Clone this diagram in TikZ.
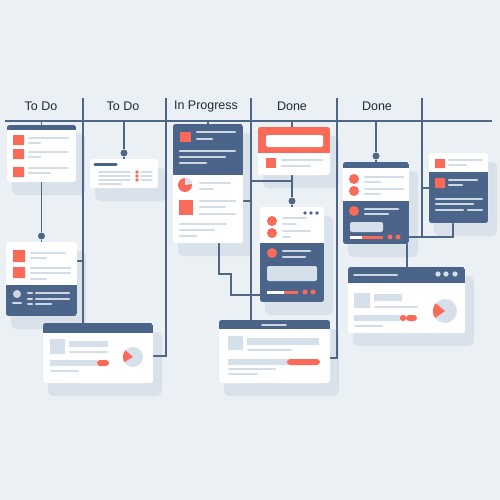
\documentclass[tikz,border=0pt]{standalone}
\usepackage{fontspec}
\setmainfont{Liberation Sans}
\usetikzlibrary{calc}
\definecolor{bg}{HTML}{EBF0F4}
\definecolor{navy}{HTML}{4A6589}
\definecolor{coral}{HTML}{FA6A58}
\definecolor{lineL}{HTML}{D3DDE7}
\definecolor{lineD}{HTML}{CCD8E4}
\definecolor{boxL}{HTML}{D6E0EA}
\definecolor{shad}{HTML}{D9E2EA}
\definecolor{conn}{HTML}{4F6785}
\definecolor{txt}{HTML}{1F2B3A}
\pgfdeclarelayer{shadowl}
\pgfdeclarelayer{wirel}
\pgfsetlayers{shadowl,wirel,main}
\tikzset{
  wire/.style={draw=conn, line width=1.3pt},
  ln/.style={draw=lineL, line width=2.1pt, line cap=round},
  lnd/.style={draw=lineD, line width=2.1pt, line cap=round},
  cardnode/.style={fill=white, rounded corners=2.5pt, inner sep=0pt, outer sep=0pt},
  jdot/.style={circle, fill=conn, inner sep=0pt, minimum size=7pt},
  collabel/.style={font=\fontsize{12.5}{13}\selectfont, text=txt, inner sep=0pt},
}
\newcommand\mkcard[5]{%
  \begin{pgfonlayer}{shadowl}
    \fill[shad, rounded corners=6pt] ({#2+5},{#3+9}) rectangle ({#4+9},{#5+13});
  \end{pgfonlayer}
  \node[cardnode, minimum width={(#4-#2)*1pt}, minimum height={(#5-#3)*1pt}] (#1) at ({(#2+#4)/2},{(#3+#5)/2}) {};
}
\newcommand\cardpart[7]{%
  \begin{scope}
    \clip[rounded corners=2.5pt] (#1,#2) rectangle (#3,#4);
    \fill[#7] (#1,#5) rectangle (#3,#6);
  \end{scope}
}
\newcommand\pieslice[6]{\fill[#6] (#1,#2) -- plot[domain=#4:#5, samples=24] ({#1+#3*cos(\x)},{#2+#3*sin(\x)}) -- cycle;}
\begin{document}
\begin{tikzpicture}[x=1pt,y=-1pt]
\begin{pgfonlayer}{shadowl}
  \fill[bg] (0,0) rectangle (500,500);
\end{pgfonlayer}
\useasboundingbox (0,0) rectangle (500,500);

% column labels
\node[collabel] (lab1) at (41,106) {To Do};
\node[collabel] (lab2) at (123,106) {To Do};
\node[collabel] (lab3) at (206,106) {In Progress};
\node[collabel] (lab4) at (292,106) {Done};
\node[collabel] (lab5) at (377,106) {Done};

% ---------- Card A ----------
\mkcard{cardA}{7}{125}{76}{182}
\cardpart{7}{125}{76}{182}{125}{130}{navy}
\fill[coral] (13,135) rectangle (24,145) (13,149) rectangle (24,159) (13,167) rectangle (24,177);
\draw[ln] (29,138)--(68,138) (29,143)--(40,143) (29,152)--(68,152) (29,157)--(40,157) (29,168)--(68,168) (29,173)--(50,173);

% ---------- Card B ----------
\mkcard{cardB}{6}{242}{77}{316}
\cardpart{6}{242}{77}{316}{285}{316}{navy}
\fill[coral] (13,250) rectangle (25,262) (13,267) rectangle (25,278);
\draw[ln] (31,253)--(65,253) (31,258)--(46,258) (31,268)--(70,268) (31,273)--(70,273) (31,279)--(46,279);
\fill[lineD] (17,294) circle[radius=4];
\draw[lnd] (13,303)--(21,303) (28,293)--(32,293) (28,299)--(32,299) (28,304)--(32,304)
  (36,293)--(69,293) (36,299)--(69,299) (36,304)--(51,304);

% ---------- Card C ----------
\mkcard{cardC}{90}{159}{158}{188}
\draw[navy, line width=3.5pt, line cap=round] (95,164.5)--(116,164.5);
\draw[ln, line width=1.8pt] (99,172)--(130,172) (99,176)--(130,176) (99,180)--(130,180) (99,184)--(121,184)
  (141,172)--(152,172) (141,176)--(152,176) (141,180)--(152,180);
\fill[coral] (137,172) circle[radius=1.9] (137,176) circle[radius=1.9] (137,180) circle[radius=1.9];

% ---------- Card D ----------
\mkcard{cardD}{43}{323}{153}{383}
\cardpart{43}{323}{153}{383}{323}{333}{navy}
\fill[boxL] (50,339) rectangle (65,354) (69,341) rectangle (108,347) (50,360) rectangle (97,366);
\fill[coral, rounded corners=3pt] (97,360) rectangle (109,366);
\draw[ln, line width=2pt] (70,352)--(107,352) (51,371)--(78,371);
\fill[boxL] (133,357) circle[radius=10];
\pieslice{133}{357}{10}{150}{222}{coral}

% ---------- Card E ----------
\mkcard{cardE}{173}{124}{243}{243}
\cardpart{173}{124}{243}{243}{124}{175}{navy}
\fill[coral] (180,132) rectangle (191,142);
\draw[lnd] (197,132)--(235,132) (197,139)--(212,139) (180,151)--(235,151) (180,157)--(225,157) (180,163)--(206,163);
\fill[coral] (185,185) circle[radius=7];
\pieslice{185}{185}{7}{272}{352}{boxL}
\draw[ln] (200,183)--(230,183) (200,189)--(213,189) (200,201)--(235,201) (200,207)--(225,207) (200,214)--(235,214)
  (180,224)--(226,224) (180,230)--(214,230) (180,236)--(196,236);
\fill[coral] (179,200) rectangle (193,215);

% ---------- Card F ----------
\mkcard{cardF}{258}{127}{330}{175}
\cardpart{258}{127}{330}{175}{127}{153}{coral}
\fill[white, rounded corners=1.5pt] (266,135) rectangle (323,147);
\fill[coral] (266,158) rectangle (276,168);
\draw[ln] (282,160)--(322,160) (282,166)--(310,166);

% ---------- Card G ----------
\mkcard{cardG}{260}{207}{324}{302}
\cardpart{260}{207}{324}{302}{243}{302}{navy}
\fill[navy] (305,213) circle[radius=1.8] (311,213) circle[radius=1.8] (317,213) circle[radius=1.8];
\fill[coral] (272,221) circle[radius=5] (272,233) circle[radius=5] (272,253) circle[radius=5];
\draw[ln] (283,218)--(306,218) (283,224)--(296,224) (283,231)--(310,231) (283,237)--(290,237);
\draw[lnd] (283,251)--(310,251) (283,257)--(305,257);
\fill[boxL, rounded corners=2pt] (267,266) rectangle (317,281);
\draw[white, line width=3pt] (267,292)--(284,292);
\draw[coral, line width=3pt] (284,292)--(298,292);
\fill[coral] (305,292) circle[radius=2.5] (313,292) circle[radius=2.5];

% ---------- Card H ----------
\mkcard{cardH}{219}{320}{330}{383}
\cardpart{219}{320}{330}{383}{320}{329}{navy}
\draw[lnd, line width=1.8pt] (262,325)--(286,325);
\fill[boxL] (228,336) rectangle (243,350) (247,338) rectangle (319,345) (228,359) rectangle (288,365);
\fill[coral, rounded corners=3pt] (287,359) rectangle (320,365);
\draw[ln, line width=2pt] (248,350)--(291,350) (229,369)--(275,369) (229,374)--(257,374);

% ---------- Card I ----------
\mkcard{cardI}{343}{162}{409}{244}
\cardpart{343}{162}{409}{244}{162}{168}{navy}
\cardpart{343}{162}{409}{244}{201}{244}{navy}
\fill[coral] (354,179) circle[radius=5] (354,191) circle[radius=5] (354,211) circle[radius=5];
\draw[ln] (365,177)--(403,177) (365,182)--(380,182) (365,189)--(403,189) (365,194)--(380,194);
\draw[lnd] (365,209)--(398,209) (365,214)--(388,214);
\fill[boxL, rounded corners=2pt] (350,222) rectangle (383,232);
\draw[white, line width=3pt] (350,237)--(362,237);
\draw[coral, line width=3pt] (362,237)--(383,237);
\fill[coral] (390,237) circle[radius=2.5] (398,237) circle[radius=2.5];

% ---------- Card J ----------
\mkcard{cardJ}{429}{153}{488}{223}
\cardpart{429}{153}{488}{223}{172}{223}{navy}
\fill[coral] (435,159) rectangle (445,168) (435,178) rectangle (445,188);
\draw[ln] (449,160)--(482,160) (449,165)--(466,165);
\draw[lnd] (449,180)--(477,180) (449,185)--(462,185) (436,199)--(482,199) (436,204)--(473,204)
  (436,210)--(463,210) (468,210)--(482,210);

% ---------- Card K ----------
\mkcard{cardK}{348}{267}{465}{333}
\cardpart{348}{267}{465}{333}{267}{283}{navy}
\draw[lnd, line width=2pt] (354,275)--(397,275);
\fill[boxL] (438,274) circle[radius=2.6] (446,274) circle[radius=2.6] (455,274) circle[radius=2.6];
\fill[boxL] (354,293) rectangle (370,308) (374,294) rectangle (402,301) (354,315) rectangle (400,321);
\draw[ln, line width=2pt] (375,307)--(417,307) (355,326)--(382,326);
\fill[coral] (403,318) circle[radius=3.2];
\fill[coral, rounded corners=3pt] (406,315) rectangle (417,321);
\fill[boxL] (445,311) circle[radius=12];
\pieslice{445}{311}{12}{145}{220}{coral}

% ---------- junction dots ----------
\node[jdot] (dA) at (41.5,236) {};
\node[jdot] (dC) at (124,153) {};
\node[jdot] (dG) at (292,201) {};
\node[jdot] (dI) at (376,156) {};

% ---------- wires ----------
\coordinate (hL) at (5,121);
\coordinate (hR) at (492,121);
\coordinate (d1t) at (83,98);
\coordinate (d2t) at (166,98);
\coordinate (d2b) at (166,356);
\coordinate (d3t) at (251,98);
\coordinate (d4t) at (337,98);
\coordinate (d4b) at (337,358);
\coordinate (d5t) at (422,98);
\coordinate (d5b) at (422,237);
\coordinate (jB) at (83,261);
\coordinate (jE) at (251,201);
\coordinate (jF) at (251,181);
\coordinate (jJ) at (422,188);
\coordinate (jJb) at (453,237);
\coordinate (x4) at (292,0);
\coordinate (xIK) at (407,0);
\coordinate (e1) at (219,274);
\coordinate (e2) at (231,295);
\begin{pgfonlayer}{wirel}
  \draw[wire] (hL) -- (hR);
  \draw[wire] (d1t) -- (d1t |- cardD.north);
  \draw[wire] (jB -| cardB.east) -- (jB);
  \draw[wire] (d2t) -- (d2b) -- (d2b -| cardD.east);
  \draw[wire] (d3t) -- (d3t |- cardH.north);
  \draw[wire] (jE -| cardE.east) -- (jE);
  \draw[wire] (jF) -- (jF -| x4);
  \draw[wire] (d4t) -- (d4b) -- (d4b -| cardH.east);
  \draw[wire] (d5t) -- (d5b);
  \draw[wire] (jJ) -- (jJ -| cardJ.west);
  \draw[wire] (jJb -| cardI.east) -- (jJb) -- (jJb |- cardJ.south);
  \draw[wire] (xIK |- cardI.south) -- (xIK |- cardK.north);
  \draw[wire] (dA |- hL) -- (dA |- cardA.north);
  \draw[wire] (dA |- cardA.south) -- (dA) -- (dA |- cardB.north);
  \draw[wire] (dC |- hL) -- (dC) -- (dC |- cardC.north);
  \draw[wire] (cardE.north |- hL) -- (cardE.north);
  \draw[wire] (x4 |- hL) -- (x4 |- cardF.north);
  \draw[wire] (x4 |- cardF.south) -- (dG) -- (x4 |- cardG.north);
  \draw[wire] (dI |- hL) -- (dI) -- (dI |- cardI.north);
  \draw[wire] (e1 |- cardE.south) -- (e1) -- (e1 -| e2) -- (e2) -- (e2 -| cardG.west);
\end{pgfonlayer}
\end{tikzpicture}
\end{document}
